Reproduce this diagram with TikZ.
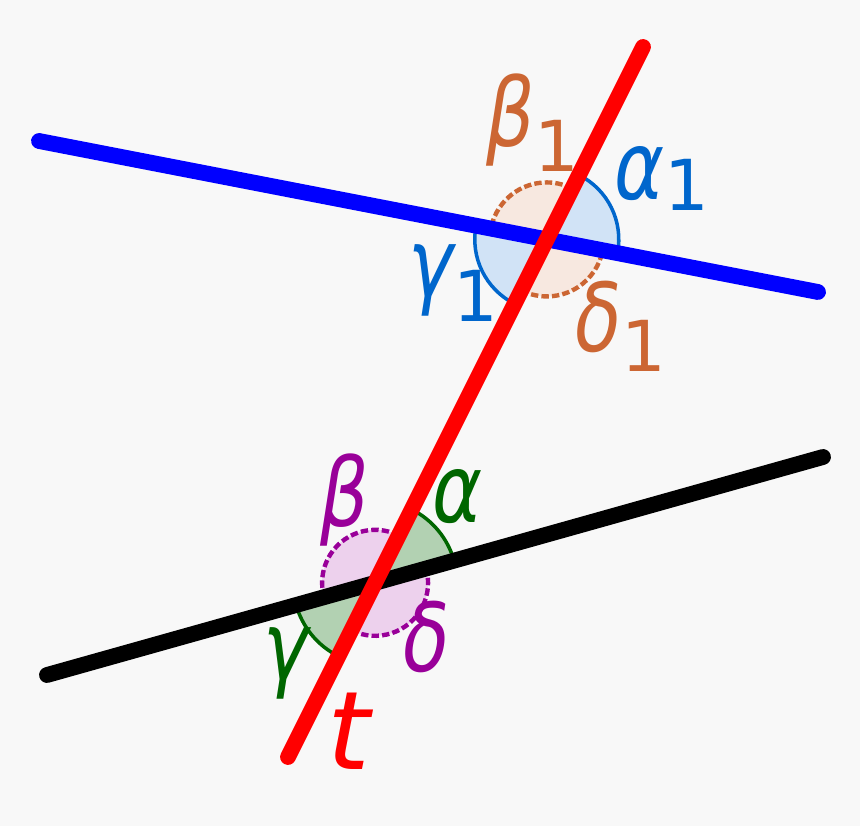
\documentclass[tikz,border=0pt]{standalone}
\usepackage{fontspec}
\setmainfont{DejaVu Sans}
\newfontfamily\anglefont[FakeStretch=0.8]{DejaVu Sans}
\usetikzlibrary{intersections}
\definecolor{bgpaper}{RGB}{248,248,248}
\definecolor{lineblue}{RGB}{0,0,255}
\definecolor{linered}{RGB}{255,0,0}
\definecolor{angblue}{RGB}{0,102,204}
\definecolor{angorange}{RGB}{204,102,51}
\definecolor{anggreen}{RGB}{0,102,0}
\definecolor{angpurple}{RGB}{153,0,153}

\begin{document}
\begin{tikzpicture}[x=0.02cm, y=0.02cm,
        transversal/.style={line width=9pt, line cap=round},
        solidarc/.style={line width=2pt},
        dashedarc/.style={line width=2.5pt, dash pattern=on 4.2pt off 1.8pt},
        greek/.style={anchor=base west, inner sep=0pt, font=\fontsize{54}{54}\anglefont\itshape}]
        % Fondo
        \fill[bgpaper] (0,0) rectangle (860,826);
        \useasboundingbox (0,0) rectangle (860,826);

        % Extremos de las rectas
        \coordinate (blueA) at (39,685);
        \coordinate (blueB) at (818,534);
        \coordinate (blackA) at (47,151);
        \coordinate (blackB) at (823,369);
        \coordinate (redA) at (288,69);
        \coordinate (redB) at (643,779);
        \path[name path=bluepath] (blueA) -- (blueB);
        \path[name path=blackpath] (blackA) -- (blackB);
        \path[name path=redpath] (redA) -- (redB);
        \path[name intersections={of=bluepath and redpath, by=top}];
        \path[name intersections={of=blackpath and redpath, by=bot}];

        % Angulos superiores (alpha1, gamma1)
        \fill[angblue!18] (top) -- ++(-11:72) arc[start angle=-11, end angle=63.4, radius=72] -- cycle;
        \fill[angblue!18] (top) -- ++(169:72) arc[start angle=169, end angle=243.4, radius=72] -- cycle;
        \draw[angblue, solidarc] (top) ++(-11:72) arc[start angle=-11, end angle=63.4, radius=72];
        \draw[angblue, solidarc] (top) ++(169:72) arc[start angle=169, end angle=243.4, radius=72];
        % Angulos superiores (beta1, delta1)
        \fill[angorange!15] (top) -- ++(63.4:57) arc[start angle=63.4, end angle=169, radius=57] -- cycle;
        \fill[angorange!15] (top) -- ++(243.4:57) arc[start angle=243.4, end angle=349, radius=57] -- cycle;
        \draw[angorange, dashedarc] (top) ++(63.4:57) arc[start angle=63.4, end angle=169, radius=57];
        \draw[angorange, dashedarc] (top) ++(243.4:57) arc[start angle=243.4, end angle=349, radius=57];

        % Angulos inferiores (alpha, gamma)
        \fill[anggreen!30] (bot) -- ++(15.7:82) arc[start angle=15.7, end angle=63.4, radius=82] -- cycle;
        \fill[anggreen!30] (bot) -- ++(195.7:82) arc[start angle=195.7, end angle=243.4, radius=82] -- cycle;
        \draw[anggreen, solidarc] (bot) ++(15.7:82) arc[start angle=15.7, end angle=63.4, radius=82];
        \draw[anggreen, solidarc] (bot) ++(195.7:82) arc[start angle=195.7, end angle=243.4, radius=82];
        % Angulos inferiores (beta, delta)
        \fill[angpurple!18] (bot) -- ++(63.4:53) arc[start angle=63.4, end angle=195.7, radius=53] -- cycle;
        \fill[angpurple!18] (bot) -- ++(243.4:53) arc[start angle=243.4, end angle=375.7, radius=53] -- cycle;
        \draw[angpurple, dashedarc] (bot) ++(63.4:53) arc[start angle=63.4, end angle=195.7, radius=53];
        \draw[angpurple, dashedarc] (bot) ++(243.4:53) arc[start angle=243.4, end angle=375.7, radius=53];

        % Rectas
        \draw[transversal, lineblue] (blueA) -- (blueB);
        \draw[transversal, black] (blackA) -- (blackB);
        \draw[transversal, linered] (redA) -- (redB);

        % Etiquetas
        \node[greek, angorange] (beta1) at (486,679) {β\raisebox{-14pt}{\fontsize{40}{40}\normalfont 1}};
        \node[greek, angblue] (alpha1) at (614,626) {α\raisebox{-6pt}{\fontsize{40}{40}\normalfont 1}};
        \node[greek, angblue] (gamma1) at (408,529) {γ\raisebox{-14pt}{\fontsize{40}{40}\normalfont 1}};
        \node[greek, angorange] (delta1) at (575,474) {δ\raisebox{-11pt}{\fontsize{40}{40}\normalfont 1}};
        \node[greek, angpurple] (beta) at (320,299) {β};
        \node[greek, anggreen] (alpha) at (432,303) {α};
        \node[greek, anggreen] (gamma) at (263,146) {γ};
        \node[greek, angpurple] (delta) at (403,154) {δ};
        \node[greek, linered, font=\fontsize{62}{62}\selectfont\itshape] (tlabel) at (327,56) {t};
\end{tikzpicture}
\end{document}
